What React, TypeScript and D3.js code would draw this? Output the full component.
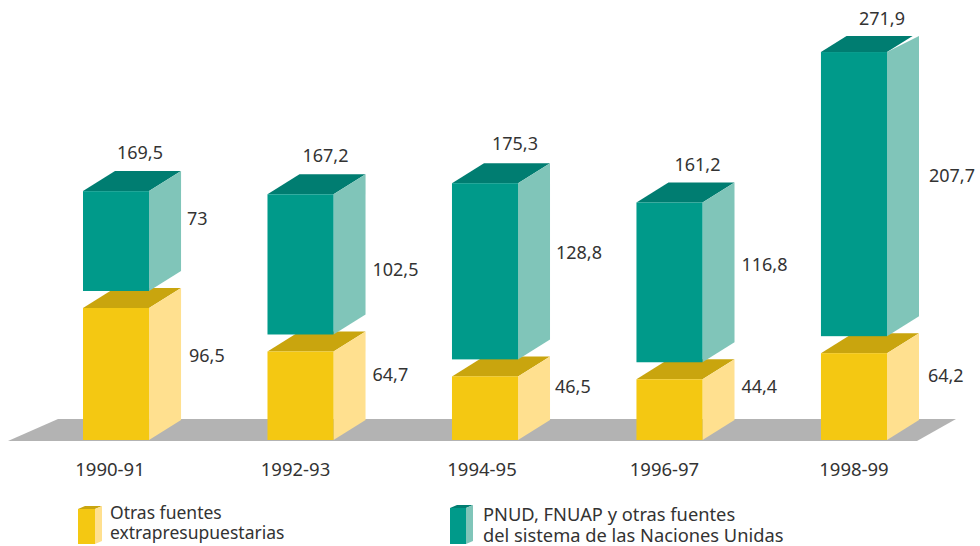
import * as d3 from "d3";

const periods = ["1990-91", "1992-93", "1994-95", "1996-97", "1998-99"];
const otherSources = [96.5, 64.7, 46.5, 44.4, 64.2];
const unSources = [73, 102.5, 128.8, 116.8, 207.7];
const totals = [169.5, 167.2, 175.3, 161.2, 271.9];

// label nudges, the original labels were placed by hand
const totalDx = [57, 58, 63, 61, 61];
const totalDy = [-32, -32, -33, -31, -27];
const unLabelDx = [104, 105, 104, 105, 108];
const unLabelDy = [-22, 6, -18, -17, -18];
const otherLabelDx = [106, 105, 103, 105, 107];
const otherLabelDy = [-18, -21, -21, -23, -21];
const periodDx = [-6, -5, -3, -5, 0];
// last bar was drawn a bit flatter on top
const tealTopDepth = [20, 20, 20, 20, 16];
const yellowTopNudge = [0, 0, 0, 0, 1];

const width = 980;
const height = 546;
const baseY = 440;
const depthX = 32;
const depthY = 20;
const gap = 17;
const FONT = "'Noto Sans', sans-serif";
const TEXT = "#333333";

const yellow = { front: "#f4c812", top: "#c9a50e", side: "#ffe08f" };
const teal = { front: "#009a8a", top: "#007d71", side: "#80c5b9" };

const x = d3.scaleBand().domain(periods).range([83, 887]).paddingInner(0.642).paddingOuter(0);
const h = d3.scaleLinear().domain([0, 100]).range([0, 136.8]);

const pts = (list: number[][]) => list.map((p) => p.join(",")).join(" ");
const comma = (v: number) => String(v).replace(".", ",");

function Box({ x0, w, top, bottom, dx, dy, topDy = dy, colors }: any) {
  const topDx = (dx * topDy) / dy;
  return (
    <g>
      <polygon fill={colors.top} points={pts([[x0, top], [x0 + topDx, top - topDy], [x0 + w + topDx, top - topDy], [x0 + w, top]])} />
      <polygon fill={colors.side} points={pts([[x0 + w, top], [x0 + w + dx, top - topDy], [x0 + w + dx, bottom - dy], [x0 + w, bottom]])} />
      <rect x={x0} y={top} width={w} height={bottom - top} fill={colors.front} />
    </g>
  );
}

export default function App() {
  const w = x.bandwidth();
  return (
    <svg
      width={width}
      height={height}
      viewBox={`0 0 ${width} ${height}`}
      style={{ position: "absolute", left: 0, top: 0, background: "#fff" }}
      fontFamily={FONT}
      fontSize={18}
      fill={TEXT}
    >
      <polygon fill="#b3b3b3" points={pts([[8, 441], [58, 419], [956, 419], [917, 441]])} />

      {periods.map((p, i) => {
        const x0 = x(p) as number;
        const yellowTop = baseY - h(otherSources[i]) + yellowTopNudge[i];
        const tealBottom = yellowTop - gap;
        const tealTop = tealBottom - h(unSources[i]);
        return (
          <g key={p}>
            <Box x0={x0} w={w} top={yellowTop} bottom={baseY} dx={depthX} dy={depthY} colors={yellow} />
            <Box x0={x0} w={w} top={tealTop} bottom={tealBottom} dx={depthX} dy={depthY} topDy={tealTopDepth[i]} colors={teal} />
            <text x={x0 + totalDx[i]} y={tealTop + totalDy[i]} textAnchor="middle">
              {comma(totals[i])}
            </text>
            <text x={x0 + unLabelDx[i]} y={(tealTop + tealBottom) / 2 + unLabelDy[i] + 6}>
              {comma(unSources[i])}
            </text>
            <text x={x0 + otherLabelDx[i]} y={(yellowTop + baseY) / 2 + otherLabelDy[i] + 6}>
              {comma(otherSources[i])}
            </text>
            <text x={x0 + w / 2 + periodDx[i]} y={476} textAnchor="middle" fontSize={18.5}>
              {p}
            </text>
          </g>
        );
      })}

      <Box x0={78} w={17} top={509} bottom={544} dx={7} dy={3} colors={yellow} />
      <g fontSize={17.5}>
        <text x={110} y={519}>Otras fuentes</text>
        <text x={110} y={539}>extrapresupuestarias</text>
      </g>

      <Box x0={450} w={16} top={508} bottom={544} dx={7} dy={3} colors={teal} />
      <g fontSize={18.3}>
        <text x={483} y={521}>PNUD, FNUAP y otras fuentes</text>
        <text x={483} y={542}>del sistema de las Naciones Unidas</text>
      </g>
    </svg>
  );
}
